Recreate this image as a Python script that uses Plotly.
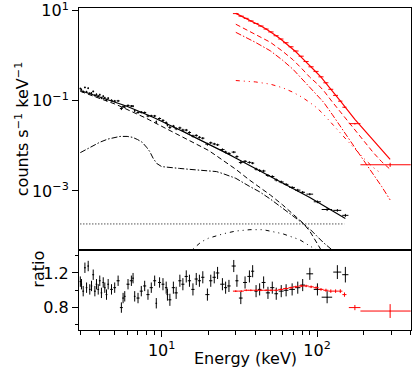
import numpy as np
import plotly.graph_objects as go
from plotly.subplots import make_subplots

# ---- black spectrum (low energy instrument) ----
black_E = [3.00, 3.05, 3.13, 3.21, 3.29, 3.37, 3.45, 3.54, 3.63, 3.72, 3.81, 3.91, 4.00, 4.10, 4.21, 4.31, 4.42, 4.53,
           4.76, 4.99, 5.25, 5.51, 5.65, 5.79, 6.08, 6.39, 6.55, 6.71, 7.05, 7.40, 7.78, 8.17, 8.58, 9.02, 9.24, 9.70,
           10.2, 10.7, 10.9, 11.3, 11.9, 12.4, 13.1, 13.7, 14.4, 15.1, 15.9, 16.7, 17.5, 18.4, 19.7, 20.7, 21.8, 22.9,
           24.6, 25.8, 27.1, 29.1, 30.5, 32.3, 34.4, 36.7, 38.5,
           40.5, 42.7, 45.3, 48.3, 51.5, 54.6, 58.8, 63.2, 69.1, 75.1, 80.8, 89.8, 100.5, 116, 135, 152]
black_dE = [0.03, 0.03, 0.04, 0.04, 0.04, 0.04, 0.04, 0.04, 0.05, 0.05, 0.05, 0.05, 0.05, 0.05, 0.05, 0.05, 0.06, 0.06,
            0.1, 0.1, 0.12, 0.12, 0.07, 0.07, 0.14, 0.15, 0.08, 0.08, 0.16, 0.17, 0.18, 0.19, 0.2, 0.2, 0.11, 0.22,
            0.22, 0.2, 0.15, 0.25, 0.28, 0.3, 0.3, 0.32, 0.34, 0.36, 0.38, 0.4, 0.42, 0.45, 0.6, 0.5, 0.55, 0.6,
            0.8, 0.6, 0.7, 0.9, 0.7, 0.9, 1.0, 1.1, 0.9,
            1.0, 1.1, 1.3, 1.5, 1.6, 1.5, 2.1, 2.2, 2.9, 3.0, 2.8, 4.5, 5.3, 9, 8, 7]
black_ratio = [1.10, 1.07, 0.99, 1.26, 1.03, 1.28, 1.01, 1.05, 1.18, 0.99, 1.07, 1.01, 1.11, 0.97, 1.09, 1.03, 0.95, 1.07,
               1.01, 1.03, 1.11, 0.80, 0.91, 0.93, 1.07, 1.11, 1.14, 0.93, 0.91, 0.99, 1.05, 0.95, 1.03, 1.11, 0.85, 1.09,
               1.07, 1.03, 0.95, 0.89, 1.03, 0.97, 1.11, 1.07, 1.16, 1.11, 1.01, 1.13, 1.11, 1.15, 0.95, 1.11, 1.15, 1.20,
               1.07, 1.03, 1.05, 1.28, 1.11, 0.91, 1.09, 1.16, 1.22,
               0.99, 1.01, 1.09, 0.97, 1.03, 0.96, 0.99, 1.00, 1.01, 1.03, 1.06, 1.19, 1.01, 0.92, 1.21, 1.18]
black_ratio_err = [
    0.06, 0.06, 0.06, 0.06, 0.06, 0.06, 0.06, 0.06, 0.06, 0.06, 0.06, 0.06, 0.06, 0.06, 0.06, 0.06, 0.06, 0.06,
    0.06, 0.06, 0.06, 0.06, 0.06, 0.06, 0.06, 0.06, 0.06, 0.06, 0.06, 0.06, 0.06, 0.06, 0.06, 0.06, 0.06, 0.06,
    0.07, 0.07, 0.07, 0.07, 0.07, 0.07, 0.07, 0.07, 0.07, 0.07, 0.07, 0.07, 0.07, 0.07, 0.07, 0.07, 0.07, 0.07,
    0.07, 0.07, 0.07, 0.07, 0.07, 0.07, 0.07, 0.07, 0.07,
    0.07, 0.07, 0.07, 0.07, 0.07, 0.07, 0.07, 0.07, 0.07, 0.07, 0.07, 0.07, 0.07, 0.07, 0.08, 0.09]
# total model (log10 counts/s/keV) at the black bins
black_model = [-0.770, -0.778, -0.791, -0.803, -0.815, -0.827, -0.838, -0.851, -0.863, -0.875, -0.887, -0.899,
               -0.910, -0.922, -0.935, -0.947, -0.959, -0.971,
               -0.995, -1.018, -1.047, -1.075, -1.089, -1.104, -1.132, -1.161, -1.175, -1.189, -1.218, -1.249,
               -1.282, -1.315, -1.347, -1.381, -1.397, -1.430,
               -1.464, -1.499, -1.512, -1.539, -1.576, -1.606, -1.646, -1.678, -1.714, -1.748, -1.786, -1.821,
               -1.855, -1.890, -1.940, -1.977, -2.018, -2.056, -2.112, -2.150, -2.189, -2.246, -2.283, -2.329,
               -2.380, -2.431, -2.469,
               -2.510, -2.550, -2.595, -2.644, -2.693, -2.738, -2.796, -2.855, -2.927, -2.995, -3.055, -3.147,
               -3.245, -3.376, -3.514, -3.614]

# black model components (log10)
bk_comp_E = [3, 3.5, 4, 4.5, 5, 5.4, 6, 6.5, 7, 7.5, 8, 8.4, 8.8, 9.3, 10, 11, 13, 15, 17.5, 20, 22.5, 25, 30,
             36.8, 42.7, 50, 60, 70, 81, 90, 104, 110, 126, 140]
bk_cutoffpl = [-0.79, -0.87, -0.94, -1.005, -1.07, -1.12, -1.19, -1.245, -1.29, -1.34, -1.39, -1.43, -1.465, -1.505,
               -1.56, -1.635, -1.77, -1.88, -2.0, -2.10, -2.22, -2.33, -2.52, -2.76, -2.92, -3.09, -3.31, -3.51,
               -3.71, -3.90, -4.25, -4.40, -4.80, -5.2]
bk_reflect = [-2.15, -2.03, -1.92, -1.85, -1.81, -1.79, -1.79, -1.81, -1.86, -1.92, -2.03, -2.13, -2.27, -2.39,
              -2.46, -2.48, -2.50, -2.52, -2.54, -2.55, -2.57, -2.62, -2.72, -2.90, -3.02, -3.18, -3.38, -3.56,
              -3.72, -3.85, -4.08, -4.15, -4.32, -4.50]
bk_hump_E = [14, 16, 18, 20, 25, 30, 37, 45, 60, 77, 98, 115]
bk_hump = [-4.5, -4.28, -4.13, -4.05, -3.95, -3.89, -3.86, -3.86, -3.95, -4.08, -4.30, -4.5]
bk_bkg_E = [3, 150]
bk_bkg = [1.85e-4, 1.85e-4]

# ---- red spectrum (hard X-ray instrument) ----
red_E = [30.0, 32.5, 35.0, 37.5, 40.5, 43.5, 47.0, 50.5, 54.5, 58.5, 63.0, 68.0, 73.0, 79.0, 85.0, 91.5, 98.5,
         106, 114, 122.5, 131.5, 141, 150, 175, 295]
red_dE = [1.25, 1.25, 1.25, 1.5, 1.5, 1.75, 1.75, 2.0, 2.0, 2.25, 2.5, 2.5, 3.0, 3.0, 3.25, 3.5, 3.75, 4.0, 4.25,
          4.5, 4.75, 4.5, 4.5, 15, 105]
red_ratio = [0.99, 0.99, 1.00, 1.00, 1.00, 1.00, 1.00, 1.00, 1.00, 1.01, 1.02, 1.03, 1.04, 1.05, 1.05, 1.04, 1.03,
             1.01, 1.00, 0.99, 0.99, 0.99, 0.95, 0.80, 0.76]
red_ratio_err = [0.01, 0.01, 0.01, 0.01, 0.01, 0.01, 0.01, 0.01, 0.01, 0.012, 0.012, 0.012, 0.013, 0.013, 0.014,
                 0.015, 0.015, 0.016, 0.018, 0.02, 0.02, 0.022, 0.025, 0.03, 0.08]
red_model = [0.940, 0.883, 0.830, 0.773, 0.717, 0.660, 0.593, 0.529, 0.445, 0.367, 0.280, 0.186, 0.088, -0.031,
             -0.148, -0.262, -0.360, -0.472, -0.600, -0.740, -0.875, -1.003, -1.120, -1.410, -2.300]

red_comp_E = [30, 40, 50, 60, 70, 80, 90, 100, 110, 125, 140, 160, 180, 200, 230, 260, 295]
red_cutoffpl = [0.70, 0.48, 0.30, 0.10, -0.09, -0.29, -0.48, -0.62, -0.77, -1.02, -1.23, -1.48, -1.70, -1.89,
                -2.15, -2.35, -2.52]
red_reflect = [0.52, 0.30, 0.11, -0.10, -0.30, -0.51, -0.71, -0.86, -1.03, -1.30, -1.54, -1.83, -2.10, -2.33,
               -2.62, -2.90, -3.20]
red_hump = [-0.55, -0.58, -0.63, -0.71, -0.81, -0.92, -1.04, -1.16, -1.30, -1.50, -1.70, -1.92, -2.12, -2.28,
            -2.48, -2.62, None]

RED = '#ff0000'
FONT = 'DejaVu Sans'
FS = 16


def lin(vals):
    return [None if v is None else 10 ** v for v in vals]


bk_mod = np.power(10.0, black_model)
bk_counts = bk_mod * np.array(black_ratio)
bk_err = bk_mod * np.array(black_ratio_err)
rd_mod = np.power(10.0, red_model)
rd_counts = rd_mod * np.array(red_ratio)
rd_err = rd_mod * np.array(red_ratio_err)

fig = make_subplots(rows=2, cols=1, shared_xaxes=True, vertical_spacing=0, row_heights=[0.75, 0.25])


def data_trace(x, y, dx, dy, color):
    return go.Scatter(x=x, y=y, mode='markers', marker=dict(size=1, color=color),
                      error_x=dict(type='data', array=dx, thickness=1, width=0, color=color),
                      error_y=dict(type='data', array=dy, thickness=1, width=0, color=color))


def line_trace(x, y, color, dash='solid', width=1):
    return go.Scatter(x=x, y=y, mode='lines', line=dict(color=color, width=width, dash=dash))


DASH = '5px,3px'
DASHDOT = '6px,2px,1.5px,2px'
DOT = '1px,2px'
DDD = '4px,4px,1px,4px,1px,4px'

# top panel: spectra + models
fig.add_trace(line_trace(bk_bkg_E, bk_bkg, 'black', DOT), 1, 1)
fig.add_trace(line_trace(bk_comp_E, lin(bk_cutoffpl), 'black', DASH), 1, 1)
fig.add_trace(line_trace(bk_comp_E, lin(bk_reflect), 'black', DASHDOT), 1, 1)
fig.add_trace(line_trace(bk_hump_E, lin(bk_hump), 'black', DDD), 1, 1)
fig.add_trace(data_trace(black_E, bk_counts, black_dE, bk_err, 'black'), 1, 1)
fig.add_trace(line_trace(black_E, bk_mod, 'black', width=1.2), 1, 1)

fig.add_trace(line_trace(red_comp_E, lin(red_cutoffpl), RED, DASH), 1, 1)
fig.add_trace(line_trace(red_comp_E, lin(red_reflect), RED, DASHDOT), 1, 1)
fig.add_trace(line_trace(red_comp_E, lin(red_hump), RED, DDD), 1, 1)
fig.add_trace(data_trace(red_E, rd_counts, red_dE, rd_err, RED), 1, 1)
fig.add_trace(line_trace(red_E, rd_mod, RED, width=1.2), 1, 1)

# bottom panel: ratio
fig.add_hline(y=1.0, line_color='#808080', line_width=1, row=2, col=1)
fig.add_trace(data_trace(black_E, black_ratio, black_dE, black_ratio_err, 'black'), 2, 1)
fig.add_trace(data_trace(red_E, red_ratio, red_dE, red_ratio_err, RED), 2, 1)

axis_common = dict(showline=True, mirror=True, linecolor='black', linewidth=1, showgrid=False, zeroline=False,
                   tickcolor='black', tickwidth=1, automargin=False, ticklabeloverflow='allow')

fig.update_xaxes(type='log', range=[0.4685, 2.604], **axis_common)
fig.update_xaxes(ticks='', showticklabels=False, row=1, col=1)
fig.update_xaxes(ticks='outside', ticklen=6, tickvals=[10, 100], ticktext=['10<sup>1</sup>', '10<sup>2</sup>'],
                 minor=dict(ticks='outside', ticklen=3.5, tickcolor='black',
                            tickvals=[3, 4, 5, 6, 7, 8, 9, 20, 30, 40, 50, 60, 70, 80, 90, 200, 300, 400]),
                 row=2, col=1)

fig.update_yaxes(type='log', range=[-4.30, 1.06], ticks='outside', ticklen=6, tickvals=[10, 0.1, 0.001],
                 ticktext=['10<sup>1</sup>', '10<sup>−1</sup>', '10<sup>−3</sup>'], row=1, col=1, **axis_common)
fig.update_yaxes(range=[0.541, 1.471], ticks='outside', ticklen=6, tickvals=[0.8, 1.2], ticktext=['0.8', '1.2'],
                 minor=dict(ticks='outside', ticklen=3.5, tickcolor='black', tickvals=[0.6, 1.0, 1.4]),
                 row=2, col=1, **axis_common)

# axis titles placed as paper annotations (plot area: x 79..411 px, y 8..330 px)
fig.add_annotation(text='counts s<sup>−1</sup> keV<sup>−1</sup>', xref='paper', yref='paper',
                   x=-0.208, y=0.625, textangle=-90, showarrow=False, font=dict(size=FS))
fig.add_annotation(text='ratio', xref='paper', yref='paper',
                   x=-0.157, y=0.125, textangle=-90, showarrow=False, font=dict(size=FS))
fig.add_annotation(text='Energy (keV)', xref='paper', yref='paper',
                   x=0.5, y=-0.124, showarrow=False, font=dict(size=FS))

fig.update_layout(
    width=416, height=385,
    margin=dict(l=79, r=5, t=8, b=55),
    plot_bgcolor='white', paper_bgcolor='white',
    font=dict(family=FONT, size=FS, color='black'),
    showlegend=False,
)

fig.write_html('out.html', config={'displayModeBar': False},
               post_script="document.body.style.margin='0';")
